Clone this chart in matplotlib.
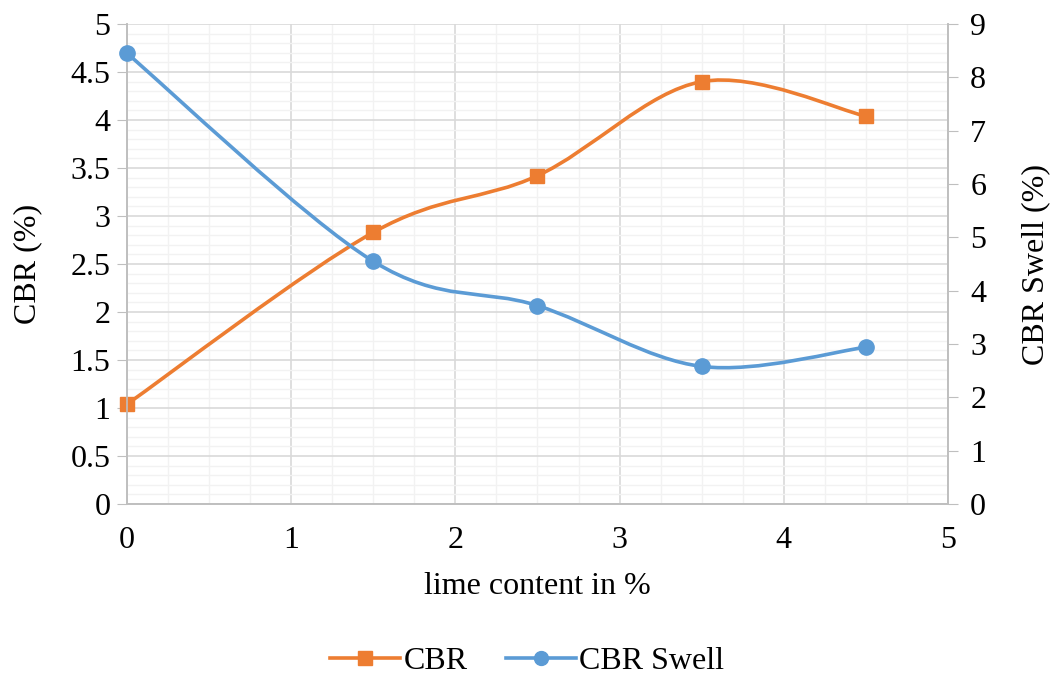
import matplotlib.pyplot as plt
from matplotlib.path import Path
from matplotlib.patches import PathPatch
from matplotlib.lines import Line2D
from matplotlib.ticker import MultipleLocator

plt.rcParams['font.family'] = ['Liberation Serif', 'DejaVu Serif']

# --- data ---
lime = [0, 1.5, 2.5, 3.5, 4.5]
cbr = [1.04, 2.83, 3.42, 4.40, 4.04]
swell = [8.45, 4.55, 3.72, 2.58, 2.94]

ORANGE = '#ED7D31'
BLUE = '#5B9BD5'
GRID_MAJ = '#D9D9D9'
GRID_MIN = '#F2F2F2'
SPINE = '#BFBFBF'
FS = 23


def smooth_path(xs, ys):
    # Excel-style smoothed line: cubic bezier through every point
    pts = list(zip(xs, ys))
    verts = [pts[0]]
    codes = [Path.MOVETO]
    n = len(pts)
    for i in range(n - 1):
        p0 = pts[i - 1] if i > 0 else pts[i]
        p1 = pts[i]
        p2 = pts[i + 1]
        p3 = pts[i + 2] if i + 2 < n else pts[i + 1]
        c1 = (p1[0] + (p2[0] - p0[0]) / 6, p1[1] + (p2[1] - p0[1]) / 6)
        c2 = (p2[0] - (p3[0] - p1[0]) / 6, p2[1] - (p3[1] - p1[1]) / 6)
        verts += [c1, c2, p2]
        codes += [Path.CURVE4] * 3
    return Path(verts, codes)


fig = plt.figure(figsize=(10.54, 6.75), dpi=100)
ax = fig.add_axes([0.1205, 0.2533, 0.7789, 0.7111])
ax2 = ax.twinx()

ax.set_xlim(0, 5)
ax.set_ylim(0, 5)
ax2.set_ylim(0, 9)

ax.xaxis.set_major_locator(MultipleLocator(1))
ax.xaxis.set_minor_locator(MultipleLocator(0.25))
ax.yaxis.set_major_locator(MultipleLocator(0.5))
ax.yaxis.set_minor_locator(MultipleLocator(0.1))
ax2.yaxis.set_major_locator(MultipleLocator(1))

ax.grid(which='minor', color=GRID_MIN, lw=1.0, zorder=0)
ax.grid(which='major', color=GRID_MAJ, lw=1.2, zorder=0)
ax.set_axisbelow(True)

for a in (ax, ax2):
    a.spines['top'].set_visible(False)
    for s in ('left', 'right', 'bottom'):
        a.spines[s].set_color(SPINE)
        a.spines[s].set_linewidth(1.2)

ax.tick_params(axis='y', which='major', length=7, color=SPINE, labelsize=FS, pad=5)
ax.tick_params(axis='y', which='minor', length=0)
ax.tick_params(axis='x', which='both', length=0, labelsize=FS, pad=16)
ax2.tick_params(axis='y', which='major', length=7, color=SPINE, labelsize=FS, pad=9)

ax.set_yticks([0, 0.5, 1, 1.5, 2, 2.5, 3, 3.5, 4, 4.5, 5])
ax.set_yticklabels(['0', '0.5', '1', '1.5', '2', '2.5', '3', '3.5', '4', '4.5', '5'])

ax.set_xlabel('lime content in %', fontsize=FS, labelpad=12)
ax.set_ylabel('CBR (%)', fontsize=FS, labelpad=20)
ax2.set_ylabel('CBR Swell (%)', fontsize=FS, labelpad=25)

# smoothed lines
ax.add_patch(PathPatch(smooth_path(lime, cbr), fill=False, ec=ORANGE, lw=2.6, zorder=3,
                       capstyle='round'))
ax2.add_patch(PathPatch(smooth_path(lime, swell), fill=False, ec=BLUE, lw=2.6, zorder=3,
                        capstyle='round'))
ax.plot(lime, cbr, ls='none', marker='s', ms=10, color=ORANGE, zorder=4, clip_on=False)
ax2.plot(lime, swell, ls='none', marker='o', ms=11, color=BLUE, zorder=4, clip_on=False)

handles = [Line2D([], [], color=ORANGE, lw=2.6, marker='s', ms=10),
           Line2D([], [], color=BLUE, lw=2.6, marker='o', ms=10)]
fig.legend(handles, ['CBR', 'CBR Swell'], loc='center', bbox_to_anchor=(0.5, 0.02),
           ncol=2, frameon=False, fontsize=FS, handlelength=2.2, handletextpad=0.1,
           columnspacing=1.2)

fig.savefig('out.png', dpi=100)
